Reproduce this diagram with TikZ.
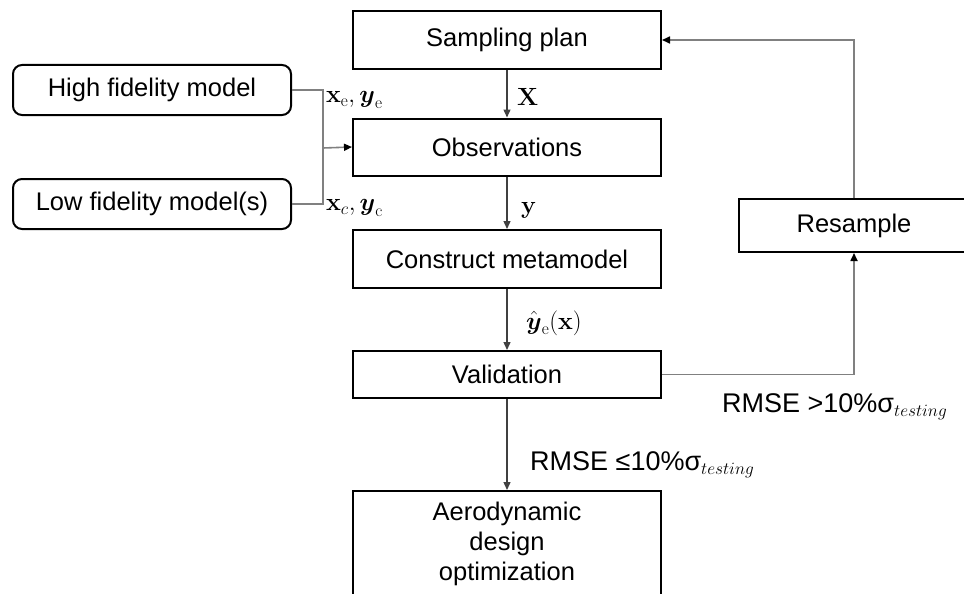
\documentclass[tikz,border=0pt]{standalone}
\usepackage{amsmath}
\usepackage[no-math]{fontspec}
\setmainfont{Liberation Sans}
\usetikzlibrary{arrows.meta}
\begin{document}
\begin{tikzpicture}[x=1pt,y=-1pt,
  font=\fontsize{25.5}{30}\selectfont,
  box/.style={draw=black,line width=2pt,minimum width=308pt,minimum height=57pt,inner sep=0pt,align=center},
  rbox/.style={draw=black,line width=2pt,rounded corners=9pt,minimum width=278pt,minimum height=50pt,inner sep=0pt},
  vline/.style={draw=black!75,line width=1.4pt,-{Triangle[length=8pt,width=7pt]}},
  gline/.style={draw=black!50,line width=1.6pt},
  lab/.style={inner sep=0pt,anchor=west},
  rlab/.style={inner sep=0pt,anchor=west,font=\fontsize{27}{30}\selectfont}
]
\useasboundingbox (0,0) rectangle (964,594);
\node[box,minimum height=58pt] (sp) at (507,40) {Sampling plan};
\node[box] (obs) at (507,147) {Observations};
\node[box,minimum height=58pt] (cm) at (507,259) {Construct metamodel};
\node[box,minimum height=47pt] (val) at (507,374.5) {Validation};
\node[box,minimum height=106pt] (aero) at (507,544) {Aerodynamic\\design\\optimization};
\node[box,minimum width=230pt,minimum height=53pt] (rs) at (854,225.5) {Resample};
\node[rbox] (hf) at (152,90) {High fidelity model};
\node[rbox] (lf) at (152,204) {Low fidelity model(s)};
\coordinate (j) at (323,148);

\draw[vline] (sp.south) -- (obs.north);
\draw[vline] (obs.south) -- (cm.north);
\draw[vline] (cm.south) -- (val.north);
\draw[vline] (val.south) -- (aero.north);
\draw[gline,-{Triangle[length=8pt,width=7pt,color=black]}] (val.east) -| (rs.south);
\draw[gline,-{Triangle[length=8pt,width=7pt,color=black]}] (rs.north) |- (sp.east);
\draw[gline] (hf.east) -| (j);
\draw[gline] (lf.east) -| (j);
\draw[gline,-{Triangle[length=8pt,width=7pt,color=black]}] (j) -- (obs.west);

\node[lab] (lx) at (517,97) {$\mathbf{X}$};
\node[lab] (ly) at (521,210) {$\mathbf{y}$};
\node[lab] (lyh) at (526,323) {$\hat{\boldsymbol{y}}_{\mathrm{e}}(\mathbf{x})$};
\node[lab] (lxe) at (326,100) {$\mathbf{x}_{\mathrm{e}},\boldsymbol{y}_{\mathrm{e}}$};
\node[lab] (lxc) at (326,208) {$\mathbf{x}_{c},\boldsymbol{y}_{\mathrm{c}}$};
\node[rlab] (lgt) at (722,407) {RMSE >10\%σ$_{testing}$};
\node[rlab] (lle) at (530,465) {RMSE ≤10\%σ$_{testing}$};
\end{tikzpicture}
\end{document}
